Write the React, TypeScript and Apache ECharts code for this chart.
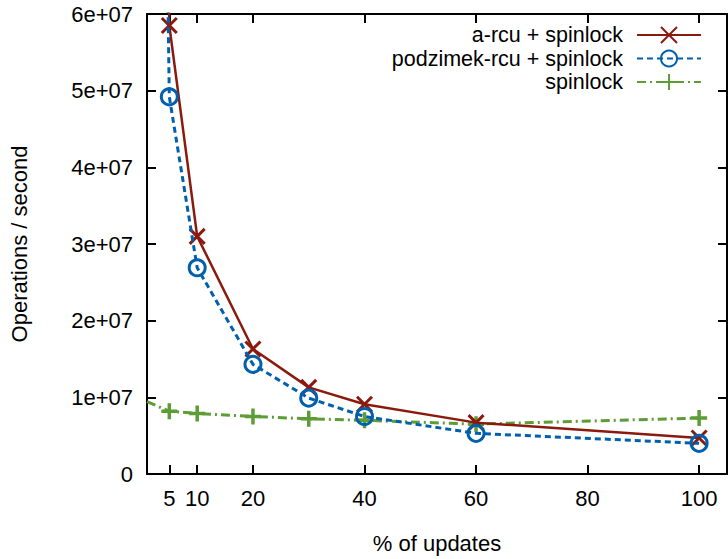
import React, { useEffect, useRef } from "react";
import * as echarts from "echarts";

const seriesNames = ["a-rcu + spinlock", "podzimek-rcu + spinlock", "spinlock"];
const xTicks = [5, 10, 20, 40, 60, 80, 100];
const aRcu: [number, number][] = [
  [1, 2.8e8], [5, 5.85e7], [10, 3.1e7], [20, 1.63e7], [30, 1.13e7], [40, 0.91e7], [60, 0.67e7], [100, 0.47e7],
];
const podzimek: [number, number][] = [
  [1, 2.5e8], [5, 4.92e7], [10, 2.69e7], [20, 1.43e7], [30, 0.99e7], [40, 0.75e7], [60, 0.53e7], [100, 0.4e7],
];
const spinlock: [number, number][] = [
  [1, 0.943e7], [5, 0.82e7], [10, 0.79e7], [20, 0.75e7], [30, 0.72e7], [40, 0.7e7], [60, 0.65e7], [100, 0.73e7],
];

const colors = ["#8b1a0e", "#0060ad", "#5e9c36"];
const FONT = "Liberation Sans, Arial, sans-serif";

const toData = (arr: [number, number][]) =>
  arr.map(([x, y]) => (x < 5 ? { value: [x, y], symbol: "none" } : { value: [x, y] }));

export default function App() {
  const ref = useRef<HTMLDivElement>(null);
  useEffect(() => {
    if (!ref.current) return;
    const chart = echarts.init(ref.current, null, { renderer: "svg" });
    const axisCommon = {
      type: "value" as const,
      axisLine: { show: true, onZero: false, lineStyle: { color: "#000", width: 2 } },
      axisTick: { show: true, inside: true, length: 9, lineStyle: { color: "#000", width: 2 } },
      splitLine: { show: false },
    };
    const yFmt = (v: number) => (v === 0 ? "0" : `${Math.round(v / 1e7)}e+07`);
    chart.setOption({
      animation: false,
      textStyle: { fontFamily: FONT },
      grid: { left: 142, right: 1, top: 14, bottom: 71, containLabel: false },
      legend: {
        orient: "vertical",
        right: 26,
        top: 24,
        padding: 0,
        align: "right",
        itemWidth: 64,
        itemHeight: 20,
        itemGap: 1.5,
        selectedMode: false,
        textStyle: { fontSize: 21.5, color: "#000", fontFamily: FONT, lineHeight: 21, padding: [0, 9, 0, 0] },
        data: seriesNames,
      },
      xAxis: [
        {
          ...axisCommon,
          position: "bottom",
          min: 1,
          max: 105,
          name: "% of updates",
          nameLocation: "middle",
          nameGap: 58,
          nameTextStyle: { fontSize: 22, color: "#000", fontFamily: FONT },
          axisTick: { ...axisCommon.axisTick, customValues: xTicks },
          axisLabel: { customValues: xTicks, fontSize: 22, color: "#000", margin: 13, fontFamily: FONT },
        },
        {
          ...axisCommon,
          position: "top",
          min: 1,
          max: 105,
          axisTick: { ...axisCommon.axisTick, customValues: xTicks },
          axisLabel: { show: false },
        },
      ],
      yAxis: [
        {
          ...axisCommon,
          position: "left",
          min: 0,
          max: 6e7,
          interval: 1e7,
          name: "Operations / second",
          nameLocation: "middle",
          nameGap: 117,
          nameTextStyle: { fontSize: 22, color: "#000", fontFamily: FONT },
          axisLabel: { formatter: yFmt, fontSize: 22, color: "#000", margin: 14, fontFamily: FONT },
        },
        {
          ...axisCommon,
          position: "right",
          min: 0,
          max: 6e7,
          interval: 1e7,
          axisLabel: { show: false },
        },
      ],
      series: [
        {
          name: seriesNames[0],
          type: "line",
          data: toData(aRcu),
          symbol: "path://M0,0 L10,10 M10,0 L0,10",
          symbolSize: 15,
          color: colors[0],
          itemStyle: { color: colors[0], borderColor: colors[0], borderWidth: 3 },
          lineStyle: { color: colors[0], width: 2.5, type: "solid" },
          clip: true,
          z: 3,
        },
        {
          name: seriesNames[1],
          type: "line",
          data: toData(podzimek),
          symbol: "circle",
          symbolSize: 16,
          color: colors[1],
          itemStyle: { color: "rgba(0,0,0,0)", borderColor: colors[1], borderWidth: 3 },
          lineStyle: { color: colors[1], width: 3, type: [6, 4] },
          clip: true,
          z: 4,
        },
        {
          name: seriesNames[2],
          type: "line",
          data: toData(spinlock),
          symbol: "path://M5,0 L5,10 M0,5 L10,5",
          symbolSize: 16,
          color: colors[2],
          itemStyle: { color: colors[2], borderColor: colors[2], borderWidth: 3.5 },
          lineStyle: { color: colors[2], width: 3, type: [9, 4, 2, 4] },
          clip: true,
          z: 2,
        },
      ],
    });
    return () => chart.dispose();
  }, []);
  return <div ref={ref} style={{ width: 728, height: 559, position: "absolute", left: 0, top: 0 }} />;
}
